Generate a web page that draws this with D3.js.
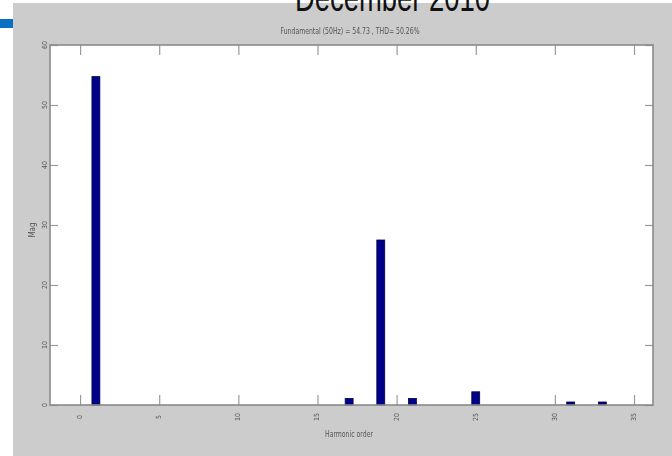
<!DOCTYPE html>
<html>
<head>
<meta charset="utf-8">
<script src="https://cdn.jsdelivr.net/npm/d3@7"></script>
<style>
  body { margin: 0; background: #fff; }
  svg { display: block; }
  text { font-family: "Liberation Sans Narrow", "DejaVu Sans Condensed", sans-serif; fill: #555; }
</style>
</head>
<body>
<svg></svg>
<script>
// harmonic spectrum values
const harmonics = [1, 17, 19, 21, 25, 31, 33];
const mags = [54.73, 1.1, 27.5, 1.1, 2.2, 0.5, 0.5];
const xTicks = [0, 5, 10, 15, 20, 25, 30, 35];
const yTicks = [0, 10, 20, 30, 40, 50, 60];
const titleText = 'Fundamental (50Hz) = 54.73 , THD= 50.26%';

const width = 672, height = 456;
const plot = {left: 50, right: 653, top: 45, bottom: 405};

let svg = d3.select('svg')
    .attr('width', width)
    .attr('height', height);

let defs = svg.append('defs');
defs.append('filter').attr('id', 'soft')
    .append('feGaussianBlur').attr('stdDeviation', 0.45);

// figure background + slide leftovers
svg.append('rect')
    .attr('x', 13).attr('y', 3)
    .attr('width', width - 13).attr('height', height - 3)
    .attr('fill', '#cccccc');
svg.append('rect')
    .attr('x', 0).attr('y', 19)
    .attr('width', 13).attr('height', 9)
    .attr('fill', '#0b6fc4');
svg.append('text')
    .attr('x', 295).attr('y', 11)
    .attr('textLength', 195)
    .attr('lengthAdjust', 'spacingAndGlyphs')
    .style('font-family', 'Liberation Sans, Arial, sans-serif')
    .style('font-size', '40px')
    .style('fill', '#111')
    .text('December 2010');

let xScale = d3.scaleLinear()
    .domain([-1.9, 36.2])
    .range([plot.left, plot.right]);
let yScale = d3.scaleLinear()
    .domain([0, 60])
    .range([plot.bottom, plot.top]);

let g = svg.append('g').attr('filter', 'url(#soft)');

// axes box
g.append('rect')
    .attr('x', plot.left).attr('y', plot.top)
    .attr('width', plot.right - plot.left)
    .attr('height', plot.bottom - plot.top)
    .attr('fill', '#fff');

// x ticks: inward at bottom and top
let xAxisB = d3.axisBottom(xScale).tickValues(xTicks).tickSize(-10).tickSizeOuter(0).tickFormat('');
let xAxisT = d3.axisTop(xScale).tickValues(xTicks).tickSize(-10).tickSizeOuter(0).tickFormat('');
g.append('g').attr('transform', `translate(0,${plot.bottom})`).call(xAxisB);
g.append('g').attr('transform', `translate(0,${plot.top})`).call(xAxisT);
// y ticks: inward at left and right
let yAxisL = d3.axisLeft(yScale).tickValues(yTicks).tickSize(-8).tickSizeOuter(0).tickFormat('');
let yAxisR = d3.axisRight(yScale).tickValues(yTicks).tickSize(-8).tickSizeOuter(0).tickFormat('');
g.append('g').attr('transform', `translate(${plot.left},0)`).call(yAxisL);
g.append('g').attr('transform', `translate(${plot.right},0)`).call(yAxisR);

g.selectAll('.domain').remove();
g.selectAll('.tick line').attr('stroke', '#9a9a9a').attr('stroke-width', 1.2);

// bars
let barW = xScale(0.5) - xScale(0);
g.append('g').selectAll('rect')
    .data(harmonics)
    .enter()
    .append('rect')
        .attr('x', (d, i) => xScale(d) - barW / 2)
        .attr('y', (d, i) => yScale(mags[i]))
        .attr('width', barW)
        .attr('height', (d, i) => yScale(0) - yScale(mags[i]))
        .attr('fill', '#000088')
        .attr('stroke', '#000044')
        .attr('stroke-width', 0.8);

// box border
g.append('rect')
    .attr('x', plot.left).attr('y', plot.top)
    .attr('width', plot.right - plot.left)
    .attr('height', plot.bottom - plot.top)
    .attr('fill', 'none')
    .attr('stroke', '#8a8a8a')
    .attr('stroke-width', 1.6);

// tick labels (rotated, as in the picture)
g.append('g').selectAll('text')
    .data(xTicks)
    .enter()
    .append('text')
        .attr('transform', d => `translate(${xScale(d) + 2},${plot.bottom + 12}) rotate(-90)`)
        .attr('text-anchor', 'middle')
        .style('font-size', '7px')
        .text(d => d);

g.append('g').selectAll('text')
    .data(yTicks)
    .enter()
    .append('text')
        .attr('transform', d => `translate(${plot.left - 3},${yScale(d)}) rotate(-90)`)
        .attr('text-anchor', 'middle')
        .style('font-size', '7px')
        .text(d => d);

// title and axis labels
g.append('text')
    .attr('x', 350).attr('y', 34)
    .attr('text-anchor', 'middle')
    .attr('textLength', 139)
    .attr('lengthAdjust', 'spacingAndGlyphs')
    .style('font-size', '8px')
    .text(titleText);

g.append('text')
    .attr('x', 349).attr('y', 437)
    .attr('text-anchor', 'middle')
    .attr('textLength', 48)
    .attr('lengthAdjust', 'spacingAndGlyphs')
    .style('font-size', '8px')
    .text('Harmonic order');

g.append('text')
    .attr('transform', `translate(35,230) rotate(-90)`)
    .attr('text-anchor', 'middle')
    .style('font-size', '8px')
    .text('Mag');
</script>
</body>
</html>
